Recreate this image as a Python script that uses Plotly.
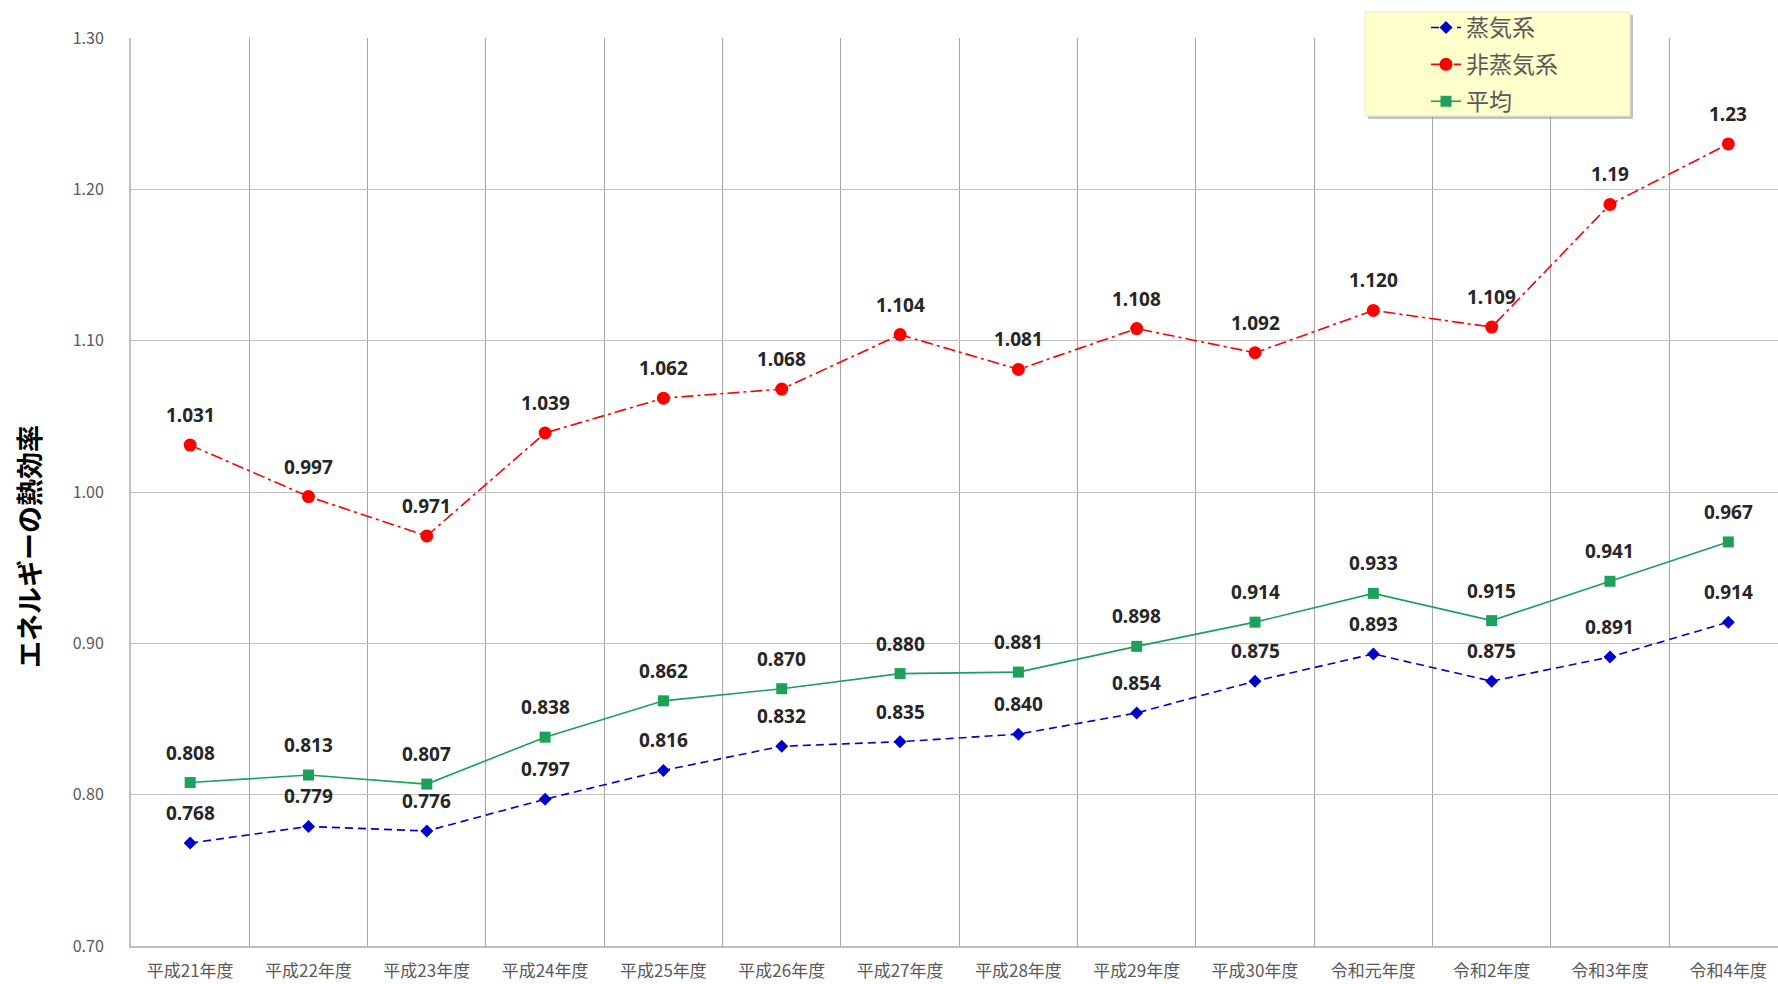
import plotly.graph_objects as go

categories = ["平成21年度", "平成22年度", "平成23年度", "平成24年度", "平成25年度", "平成26年度",
              "平成27年度", "平成28年度", "平成29年度", "平成30年度", "令和元年度", "令和2年度",
              "令和3年度", "令和4年度"]
steam = [0.768, 0.779, 0.776, 0.797, 0.816, 0.832, 0.835, 0.840, 0.854, 0.875, 0.893, 0.875, 0.891, 0.914]
non_steam = [1.031, 0.997, 0.971, 1.039, 1.062, 1.068, 1.104, 1.081, 1.108, 1.092, 1.120, 1.109, 1.19, 1.23]
average = [0.808, 0.813, 0.807, 0.838, 0.862, 0.870, 0.880, 0.881, 0.898, 0.914, 0.933, 0.915, 0.941, 0.967]
non_steam_labels = ["1.031", "0.997", "0.971", "1.039", "1.062", "1.068", "1.104", "1.081", "1.108",
                    "1.092", "1.120", "1.109", "1.19", "1.23"]
y_ticks = [0.70, 0.80, 0.90, 1.00, 1.10, 1.20, 1.30]

W, H = 1778, 984
L, R, T, B = 131, 0, 38, 38
PW, PH = W - L - R, H - T - B

JP = "Noto Sans CJK JP"

fig = go.Figure()
fig.add_trace(go.Scatter(
    x=categories, y=steam, name="蒸気系", mode="lines+markers",
    line=dict(color="#0000CC", width=1.6, dash="8px,5px"),
    marker=dict(symbol="diamond", size=10, color="#0000CC"),
    legendgroup="a"))
fig.add_trace(go.Scatter(
    x=categories, y=non_steam, name="非蒸気系", mode="lines+markers",
    line=dict(color="#FF0000", width=1.6, dash="12px,4px,3px,4px"),
    marker=dict(symbol="circle", size=13, color="#FF0000"),
    legendgroup="b"))
fig.add_trace(go.Scatter(
    x=categories, y=average, name="平均", mode="lines+markers",
    line=dict(color="#1DA05A", width=1.6),
    marker=dict(symbol="square", size=11, color="#1DA05A"),
    legendgroup="c"))

label_font = dict(family="Noto Sans, " + JP, size=19, color="#262626")
annotations = []
for series, labels in [(steam, ["%.3f" % v for v in steam]),
                       (non_steam, non_steam_labels),
                       (average, ["%.3f" % v for v in average])]:
    for c, v, t in zip(categories, series, labels):
        annotations.append(dict(x=c, y=v, text="<b>%s</b>" % t, showarrow=False,
                                yshift=30, font=label_font, xref="x", yref="y"))

def px_x(p):
    return (p - L) / PW

def px_y(p):
    return (H - B - p) / PH

# y-axis title
annotations.append(dict(x=px_x(28), y=px_y(547), xref="paper", yref="paper",
                        text="<b>エネルギーの熱効率</b>", textangle=-90, showarrow=False,
                        font=dict(family=JP, size=27, color="#000000"),
                        xanchor="center", yanchor="middle"))

shapes = [
    # legend shadow
    dict(type="rect", xref="paper", yref="paper", layer="above",
         x0=px_x(1368), x1=px_x(1633), y0=px_y(119), y1=px_y(15),
         fillcolor="#9a9a9a", line=dict(width=0), opacity=0.6),
    # legend box
    dict(type="rect", xref="paper", yref="paper", layer="above",
         x0=px_x(1365), x1=px_x(1630), y0=px_y(116), y1=px_y(12),
         fillcolor="#FFFFCC", line=dict(color="#E8E8C0", width=1)),
]

fig.update_layout(
    width=W, height=H,
    margin=dict(l=L, r=R, t=T, b=B, autoexpand=False),
    paper_bgcolor="white", plot_bgcolor="white",
    font=dict(family=JP, color="#595959"),
    showlegend=True,
    legend=dict(x=px_x(1426), y=px_y(6), xanchor="left", yanchor="top",
                bgcolor="rgba(0,0,0,0)", borderwidth=0,
                font=dict(family=JP, size=23, color="#595959"),
                tracegroupgap=4, itemwidth=30),
    annotations=annotations,
    shapes=shapes,
    xaxis=dict(type="category", range=[-0.5, 13.42], tickson="boundaries",
               showgrid=True, gridcolor="#A6A6A6", gridwidth=1,
               showline=True, linecolor="#BFBFBF", linewidth=2,
               ticks="", tickfont=dict(family=JP, size=17, color="#595959"),
               ticklabelstandoff=9, zeroline=False, fixedrange=True),
    yaxis=dict(range=[0.70, 1.30], tickvals=y_ticks,
               ticktext=["%.2f" % v for v in y_ticks],
               showgrid=True, gridcolor="#C0C0C0", gridwidth=1,
               showline=True, linecolor="#BFBFBF", linewidth=2,
               ticks="", tickfont=dict(family=JP, size=16, color="#595959"),
               ticklabelstandoff=22, zeroline=False),
)

fig.write_html("out.html")
